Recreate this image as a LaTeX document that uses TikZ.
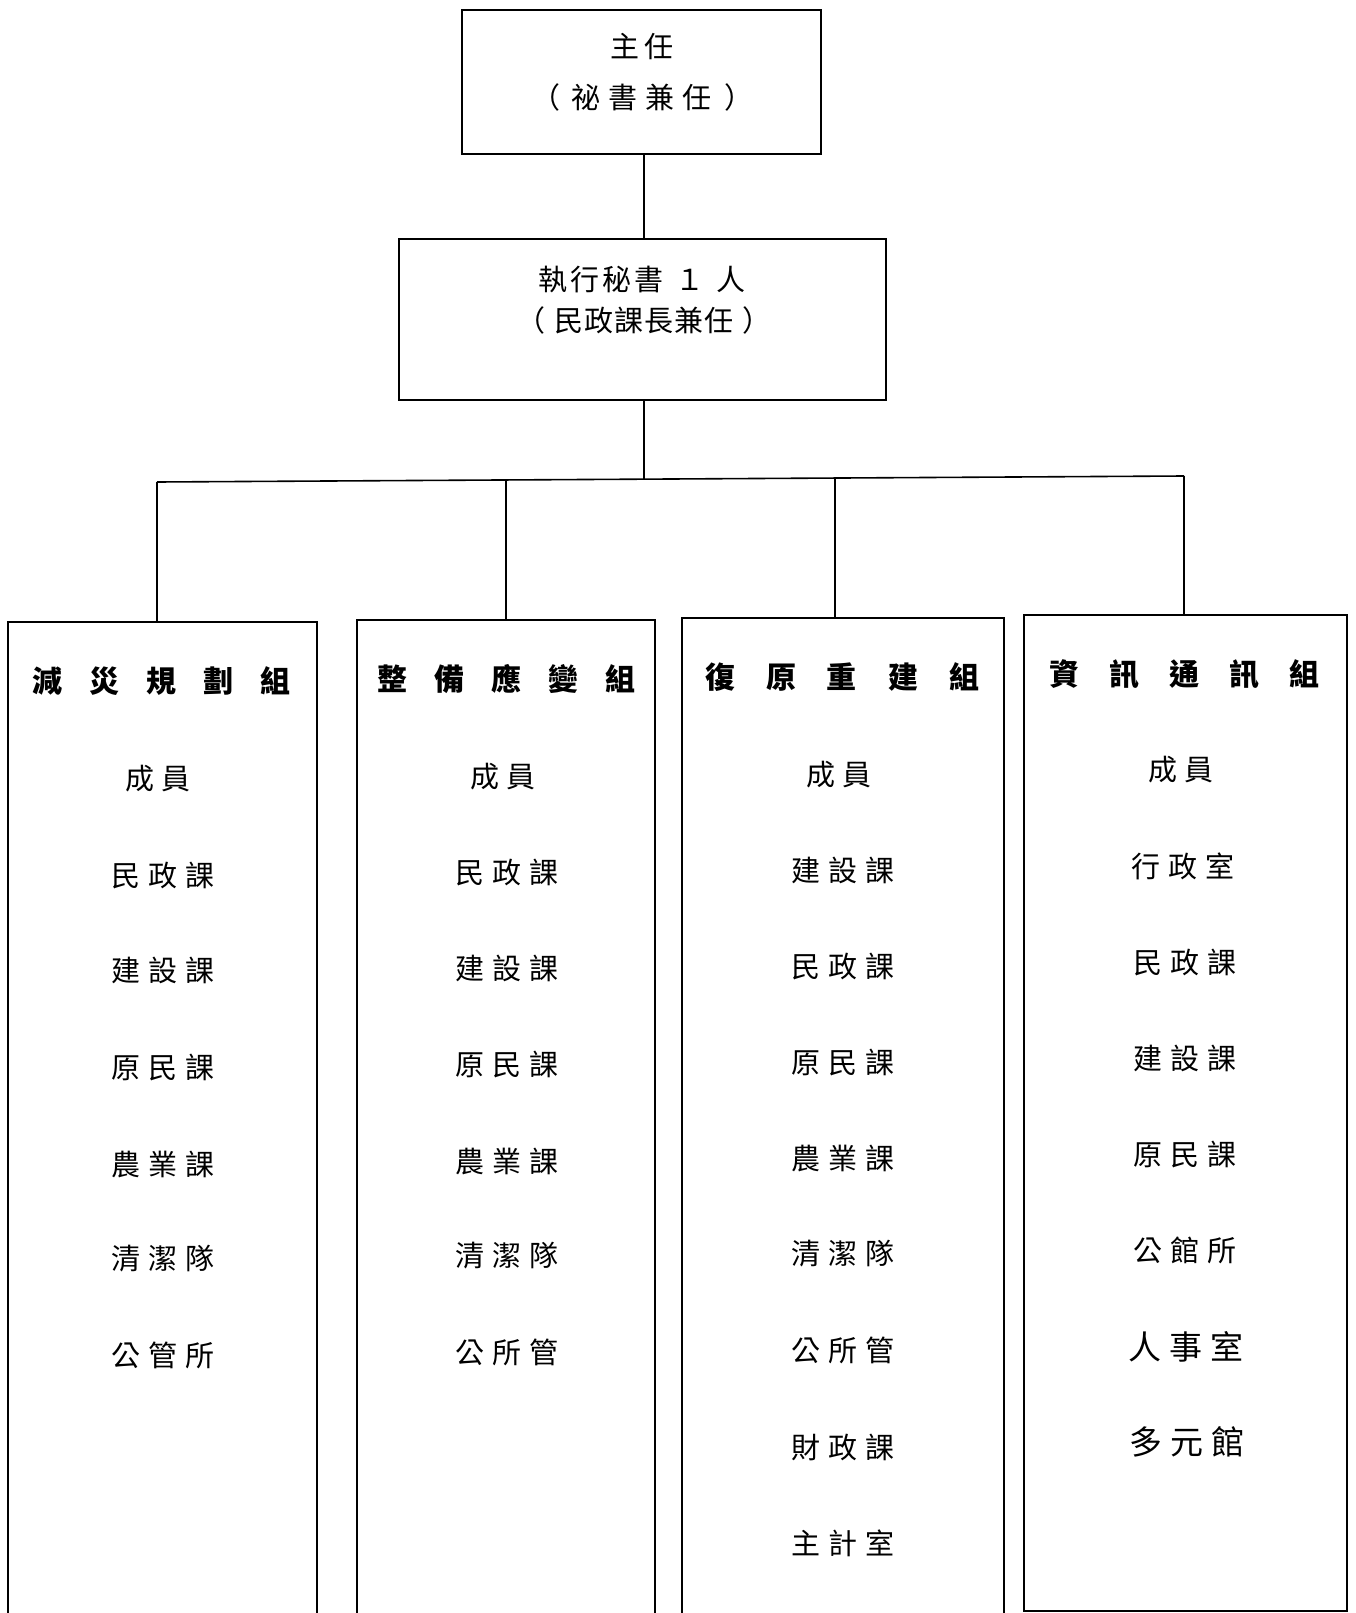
\documentclass[tikz,border=0pt]{standalone}
\usepackage{fontspec}
\setmainfont{Noto Sans CJK TC}
\newcommand{\gp}{\hspace{8pt}}
\newcommand{\hg}{\hspace{27pt}}
\newcommand{\hgw}{\hspace{31pt}}
\newcommand{\hgv}{\hspace{30pt}}
\tikzset{
  box/.style={draw, line width=1.6pt, inner sep=0pt, anchor=north west},
  conn/.style={line width=1.6pt},
  lbl/.style={font=\fontsize{29pt}{34pt}\selectfont, inner sep=0pt, align=center},
  hdr/.style={font=\fontsize{30pt}{34pt}\selectfont\bfseries, inner sep=0pt},
  big/.style={font=\fontsize{33pt}{38pt}\selectfont, inner sep=0pt},
}
\begin{document}
\begin{tikzpicture}[x=1pt,y=-1pt]
\useasboundingbox[fill=white] (0,0) rectangle (1355,1613);

% top boxes
\node[box, minimum width=359pt, minimum height=144pt] (chief) at (461,9) {};
\node[lbl] (chiefA) at (642,47) {主\hspace{6pt}任};
\node[lbl] (chiefB) at (642,97) {（\hspace{12pt}祕\hspace{8pt}書\hspace{8pt}兼\hspace{8pt}任\hspace{12pt}）};

\node[box, minimum width=487pt, minimum height=161pt] (sec) at (398,238) {};
\node[lbl] (secA) at (642,280) {執\hspace{3pt}行\hspace{3pt}秘\hspace{3pt}書\hspace{12pt}１\hspace{12pt}人};
\node[lbl] (secB) at (644,320) {（\hspace{9pt}民\hspace{1pt}政\hspace{1pt}課\hspace{1pt}長\hspace{1pt}兼\hspace{1pt}任\hspace{9pt}）};

% columns
\node[box, minimum width=309pt, minimum height=1010pt] (col1) at (7,621) {};
\node[box, minimum width=298pt, minimum height=1010pt] (col2) at (356,619) {};
\node[box, minimum width=322pt, minimum height=1010pt] (col3) at (681,617) {};
\node[box, minimum width=323pt, minimum height=996pt] (col4) at (1023,614) {};

% connectors
\coordinate (spine) at (644,479);
\coordinate (busL) at (157,482);
\coordinate (busR) at (1184,476);
\coordinate (d2) at (506,480);
\coordinate (d3) at (835,478);
\draw[conn] (chief.south -| spine) -- (sec.north -| spine);
\draw[conn] (sec.south -| spine) -- (spine);
\draw[conn] (busL) -- (busR);
\draw[conn] (busL) -- (busL |- col1.north);
\draw[conn] (d2) -- (d2 |- col2.north);
\draw[conn] (d3) -- (d3 |- col3.north);
\draw[conn] (busR) -- (busR |- col4.north);

% column 1
\node[hdr] (h1) at (161,681) {減\hg 災\hg 規\hg 劃\hg 組};
\node[lbl] (c1a) at (158,779) {成\gp 員};
\node[lbl] (c1b) at (163,875) {民\gp 政\gp 課};
\node[lbl] (c1c) at (163,970) {建\gp 設\gp 課};
\node[lbl] (c1d) at (163,1067) {原\gp 民\gp 課};
\node[lbl] (c1e) at (163,1164) {農\gp 業\gp 課};
\node[lbl] (c1f) at (163,1259) {清\gp 潔\gp 隊};
\node[lbl] (c1g) at (163,1355) {公\gp 管\gp 所};

% column 2
\node[hdr] (h2) at (506,679) {整\hg 備\hg 應\hg 變\hg 組};
\node[lbl] (c2a) at (503,777) {成\gp 員};
\node[lbl] (c2b) at (507,872) {民\gp 政\gp 課};
\node[lbl] (c2c) at (507,968) {建\gp 設\gp 課};
\node[lbl] (c2d) at (507,1064) {原\gp 民\gp 課};
\node[lbl] (c2e) at (507,1161) {農\gp 業\gp 課};
\node[lbl] (c2f) at (507,1256) {清\gp 潔\gp 隊};
\node[lbl] (c2g) at (507,1352) {公\gp 所\gp 管};

% column 3
\node[hdr] (h3) at (842,677) {復\hgw 原\hgw 重\hgw 建\hgw 組};
\node[lbl] (c3a) at (839,775) {成\gp 員};
\node[lbl] (c3b) at (843,870) {建\gp 設\gp 課};
\node[lbl] (c3c) at (843,966) {民\gp 政\gp 課};
\node[lbl] (c3d) at (843,1062) {原\gp 民\gp 課};
\node[lbl] (c3e) at (843,1158) {農\gp 業\gp 課};
\node[lbl] (c3f) at (843,1254) {清\gp 潔\gp 隊};
\node[lbl] (c3g) at (843,1350) {公\gp 所\gp 管};
\node[lbl] (c3h) at (843,1447) {財\gp 政\gp 課};
\node[lbl] (c3i) at (843,1543) {主\gp 計\gp 室};

% column 4
\node[hdr] (h4) at (1184,674) {資\hgv 訊\hgv 通\hgv 訊\hgv 組};
\node[lbl] (c4a) at (1181,770) {成\gp 員};
\node[lbl] (c4b) at (1183,866) {行\gp 政\gp 室};
\node[lbl] (c4c) at (1185,962) {民\gp 政\gp 課};
\node[lbl] (c4d) at (1185,1058) {建\gp 設\gp 課};
\node[lbl] (c4e) at (1185,1154) {原\gp 民\gp 課};
\node[lbl] (c4f) at (1185,1250) {公\gp 館\gp 所};
\node[big] (c4g) at (1186,1347) {人\gp 事\gp 室};
\node[big] (c4h) at (1187,1442) {多\gp 元\gp 館};
\end{tikzpicture}
\end{document}
